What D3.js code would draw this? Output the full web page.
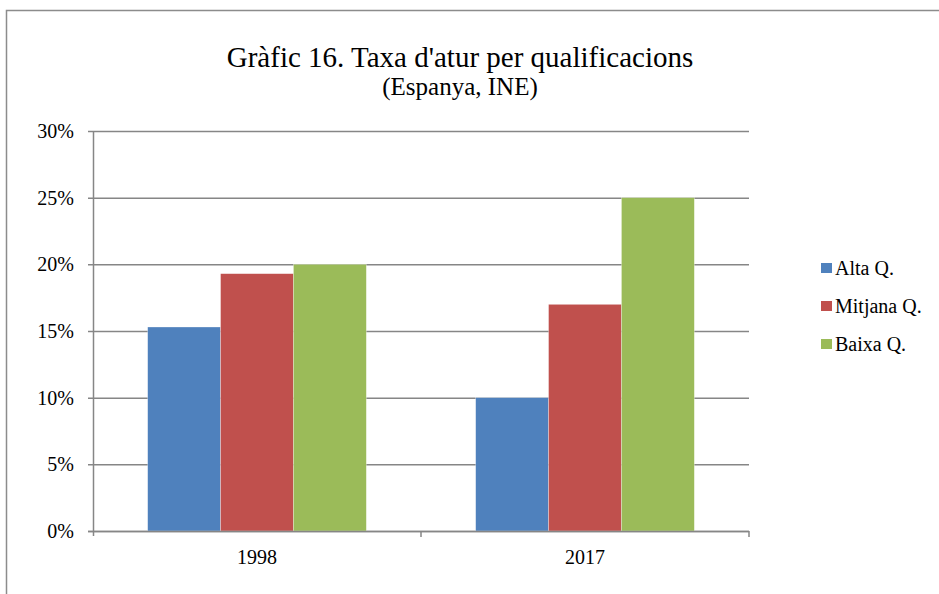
<!DOCTYPE html>
<html>
<head>
<meta charset="utf-8">
<script src="https://cdn.jsdelivr.net/npm/d3@7"></script>
<style>
  body { margin: 0; background: #fff; }
</style>
</head>
<body>
<div id="chart-area"></div>
<script>
// data
var years = ["1998", "2017"];
var series = ["Alta Q.", "Mitjana Q.", "Baixa Q."];
var altaQ = [15.3, 10.0];
var mitjanaQ = [19.3, 17.0];
var baixaQ = [20.0, 25.0];
var colors = ["#4f81bd", "#c0504d", "#9bbb59"];
var yTicks = [0, 5, 10, 15, 20, 25, 30];

var W = 939, H = 594;
var FONT = "'Liberation Serif', 'Times New Roman', Times, serif";

var svg = d3.select("#chart-area").append("svg")
    .attr("width", W)
    .attr("height", H)
    .attr("font-family", FONT)
    .style("font-family", FONT);

// outer frame (cut off at right/bottom like the original)
svg.append("rect")
    .attr("x", 6.5).attr("y", 10.5)
    .attr("width", 1000).attr("height", 1000)
    .attr("fill", "none")
    .attr("stroke", "#8c8c8c")
    .attr("stroke-width", 1.5);

// title
svg.append("text")
    .attr("x", 460).attr("y", 67)
    .attr("text-anchor", "middle")
    .style("font-size", "29px")
    .text("Gràfic 16. Taxa d'atur per qualificacions");
svg.append("text")
    .attr("x", 460).attr("y", 95)
    .attr("text-anchor", "middle")
    .style("font-size", "25px")
    .text("(Espanya, INE)");

var plotLeft = 93, plotRight = 749, plotTop = 131, plotBottom = 531;

var x = d3.scaleBand()
    .domain(years)
    .range([plotLeft, plotRight]);

var x1 = d3.scaleBand()
    .domain(series)
    .range([0, x.bandwidth()])
    .paddingOuter(0.75)
    .paddingInner(0);

var y = d3.scaleLinear()
    .domain([0, 30])
    .range([plotBottom, plotTop]);

// gridlines
svg.append("g")
    .selectAll("line")
    .data(yTicks)
    .enter()
    .append("line")
        .attr("x1", plotLeft - 5)
        .attr("x2", plotRight)
        .attr("y1", (d)=>{return y(d) + 0.5;})
        .attr("y2", (d)=>{return y(d) + 0.5;})
        .attr("stroke", "#868686")
        .attr("stroke-width", 1.5);

// y tick labels
svg.append("g")
    .selectAll("text")
    .data(yTicks)
    .enter()
    .append("text")
        .attr("x", 74)
        .attr("y", (d)=>{return y(d);})
        .attr("dy", "0.35em")
        .attr("text-anchor", "end")
        .style("font-size", "20px")
        .text((d)=>{return d + "%";});

// bars
var rows = years.map((yr, i)=>{
    return {year: yr, values: [altaQ[i], mitjanaQ[i], baixaQ[i]]};
});

var groups = svg.selectAll("g.group")
    .data(rows)
    .enter()
    .append("g")
        .attr("class", "group")
        .attr("transform", (d)=>{return "translate(" + x(d.year) + ",0)";});

groups.selectAll("rect")
    .data((d)=>{return d.values.map((v, j)=>{return {name: series[j], value: v, j: j};});})
    .enter()
    .append("rect")
        .attr("x", (d)=>{return x1(d.name);})
        .attr("width", x1.bandwidth())
        .attr("y", (d)=>{return y(d.value);})
        .attr("height", (d)=>{return y(0) - y(d.value);})
        .attr("fill", (d)=>{return colors[d.j];})
        .attr("stroke", "rgba(255,255,255,0.5)")
        .attr("stroke-width", 0.6);

// axes lines
svg.append("line")
    .attr("x1", plotLeft + 0.5).attr("x2", plotLeft + 0.5)
    .attr("y1", plotTop).attr("y2", plotBottom + 5)
    .attr("stroke", "#868686").attr("stroke-width", 1.5);
svg.append("line")
    .attr("x1", plotLeft - 5).attr("x2", plotRight)
    .attr("y1", plotBottom + 0.5).attr("y2", plotBottom + 0.5)
    .attr("stroke", "#868686").attr("stroke-width", 1.5);

// category ticks
var catEdges = years.map((d)=>{return x(d) + x.bandwidth();});
svg.append("g")
    .selectAll("line")
    .data(catEdges)
    .enter()
    .append("line")
        .attr("x1", (d)=>{return d;})
        .attr("x2", (d)=>{return d;})
        .attr("y1", plotBottom)
        .attr("y2", plotBottom + 6)
        .attr("stroke", "#868686")
        .attr("stroke-width", 1.5);

// category labels
svg.append("g")
    .selectAll("text")
    .data(years)
    .enter()
    .append("text")
        .attr("x", (d)=>{return x(d) + x.bandwidth() / 2;})
        .attr("y", 564)
        .attr("text-anchor", "middle")
        .style("font-size", "20px")
        .text((d)=>{return d;});

// legend
var legend = svg.append("g")
    .selectAll("g")
    .data(series)
    .enter()
    .append("g")
        .attr("transform", (d, i)=>{return "translate(821," + (268 + i * 38) + ")";});

legend.append("rect")
    .attr("x", 0).attr("y", -5)
    .attr("width", 11).attr("height", 10)
    .attr("fill", (d, i)=>{return colors[i];});

legend.append("text")
    .attr("x", 14)
    .attr("y", 0)
    .attr("dy", "0.35em")
    .style("font-size", "20px")
    .text((d)=>{return d;});
</script>
</body>
</html>
